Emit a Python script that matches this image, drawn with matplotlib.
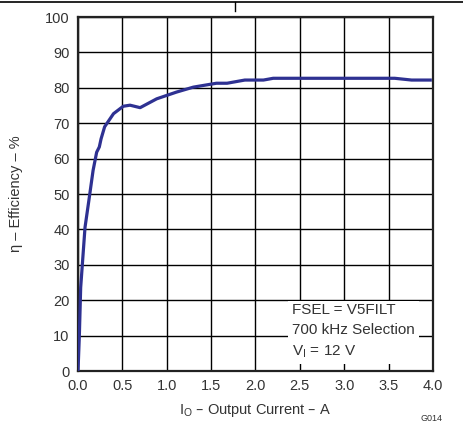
import matplotlib.pyplot as plt

plt.rcParams['font.family'] = ['Liberation Sans', 'DejaVu Sans']

# efficiency curve
current = [0.0, 0.015, 0.03, 0.079, 0.127, 0.17, 0.21, 0.24, 0.26, 0.30, 0.40,
           0.51, 0.586, 0.70, 0.887, 1.11, 1.30, 1.56, 1.68, 1.88, 2.09, 2.2,
           2.6, 3.0, 3.4, 3.57, 3.76, 3.97]
efficiency = [0.0, 10.0, 23.6, 40.6, 49.0, 56.7, 61.8, 63.3, 65.6, 69.0, 72.7,
              74.8, 75.1, 74.4, 76.9, 78.8, 80.2, 81.3, 81.3, 82.2, 82.2, 82.7,
              82.7, 82.7, 82.7, 82.7, 82.2, 82.2]

x_ticks = [0.0, 0.5, 1.0, 1.5, 2.0, 2.5, 3.0, 3.5, 4.0]
y_ticks = [0, 10, 20, 30, 40, 50, 60, 70, 80, 90, 100]

txt = '#333333'

fig = plt.figure(figsize=(4.63, 4.26), dpi=100)
ax = fig.add_axes([0.1685, 0.129, 0.7665, 0.831])

ax.plot(current, efficiency, color='#2E3192', lw=2.3, solid_joinstyle='round', zorder=3)

ax.set_xlim(0, 4)
ax.set_ylim(0, 100)
ax.set_xticks(x_ticks)
ax.set_xticklabels([f'{v:.1f}' for v in x_ticks])
ax.set_yticks(y_ticks)
ax.grid(True, color='black', lw=1.0)
ax.tick_params(length=0, labelsize=10.5, labelcolor=txt, pad=6)
for s in ax.spines.values():
    s.set_linewidth(1.6)
    s.set_color('#222222')

ax.set_xlabel(r'I$_\mathregular{O}$ – Output Current – A', fontsize=10.5, color=txt, labelpad=6)
ax.set_ylabel('η – Efficiency – %', fontsize=10.5, color=txt, labelpad=16)

ax.text(2.41, 19.1, 'FSEL = V5FILT\n700 kHz Selection\nV$_\\mathregular{I}$ = 12 V',
        fontsize=11, color=txt, linespacing=1.5, va='top', ha='left',
        bbox=dict(facecolor='white', edgecolor='none', pad=3), zorder=4)

fig.text(0.955, 0.008, 'G014', fontsize=6.5, color=txt, ha='right', va='bottom')

# page frame line at the top
fig.add_artist(plt.Line2D([0, 1], [0.995, 0.995], color='black', lw=1.2))
fig.add_artist(plt.Line2D([0.508, 0.508], [0.995, 0.975], color='black', lw=1.0))

fig.savefig('out.png', dpi=100)
